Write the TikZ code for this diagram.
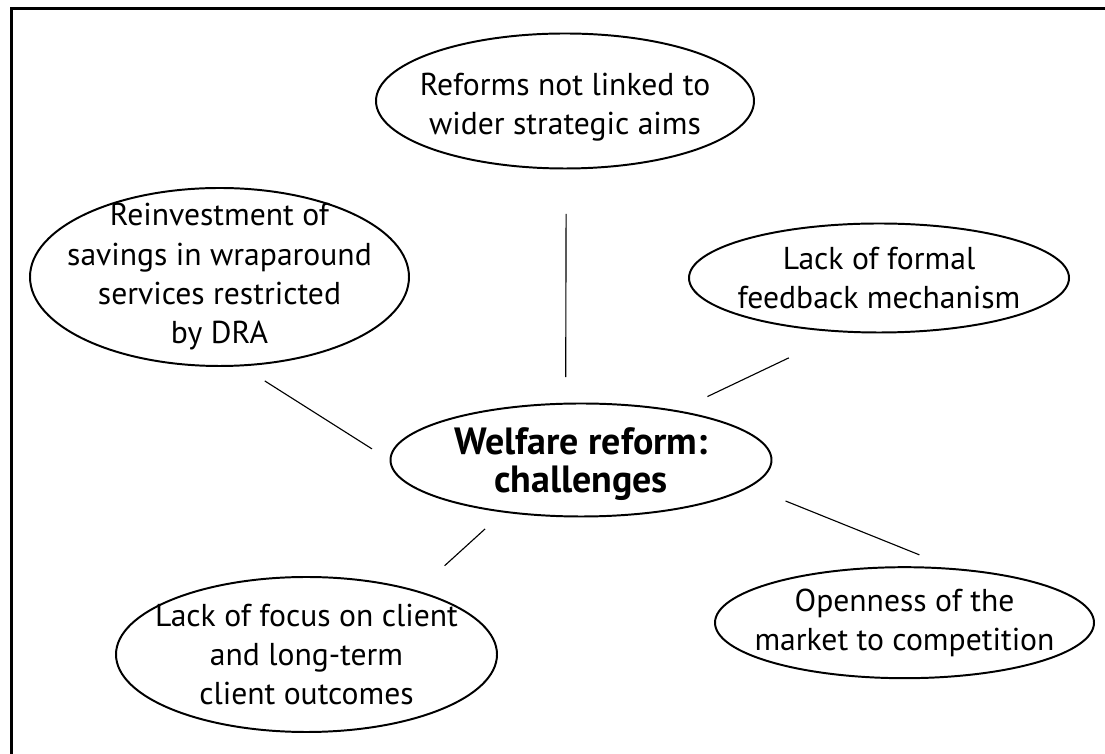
\documentclass[tikz,border=0pt]{standalone}
\usepackage{fontspec}
\setmainfont{PT Sans}
\usetikzlibrary{shapes.geometric}

\tikzset{
  bubble/.style={ellipse, draw, line width=1.4pt, inner sep=0pt},
  txt/.style={align=center, font=\fontsize{22.5}{28}\selectfont},
  link/.style={line width=0.8pt}
}

\begin{document}
\begin{tikzpicture}
  \useasboundingbox (0,0) rectangle (27.625,18.85);
  \draw[line width=2.2pt] (0.28,0) -- (0.28,18.64) -- (27.625,18.64);

  \node[bubble, minimum width=9.525cm, minimum height=2.825cm,
        label={[txt, yshift=-0.1cm, font=\fontsize{27}{27.5}\selectfont\bfseries]center:{Welfare reform:\\challenges}}] (0) at (14.525,7.35) {};
  \node[bubble, minimum width=9.45cm, minimum height=3.375cm,
        label={[txt, yshift=-0.15cm]center:{Reforms not linked to\\wider strategic aims}}] (1) at (14.125,16.325) {};
  \node[bubble, minimum width=9.475cm, minimum height=4.45cm,
        label={[txt]center:{Reinvestment of\\savings in wraparound\\services restricted\\by DRA}}] (2) at (5.4875,11.925) {};
  \node[bubble, minimum width=9.5cm, minimum height=2.725cm,
        label={[txt]center:{Lack of formal\\feedback mechanism}}] (3) at (21.975,11.9) {};
  \node[bubble, minimum width=9.525cm, minimum height=3.875cm,
        label={[txt]center:{Lack of focus on client\\and long-term\\client outcomes}}] (4) at (7.6625,2.4875) {};
  \node[bubble, minimum width=9.475cm, minimum height=2.775cm,
        label={[txt]center:{Openness of the\\market to competition}}] (5) at (22.6125,3.2825) {};

  \draw[link, shorten <=0.64cm, shorten >=1.11cm] (0.105) -- (1.-89);
  \draw[link, shorten <=0.52cm, shorten >=0.68cm] (0.west) -- (2.-76);
  \draw[link, shorten <=0.81cm, shorten >=1.48cm] (0.27) -- (3.-124);
  \draw[link, shorten <=0.61cm, shorten >=0.92cm] (0.-146) -- (4.30);
  \draw[link, shorten <=0.95cm, shorten >=0.88cm] (0.-9) -- (5.49);
\end{tikzpicture}
\end{document}
